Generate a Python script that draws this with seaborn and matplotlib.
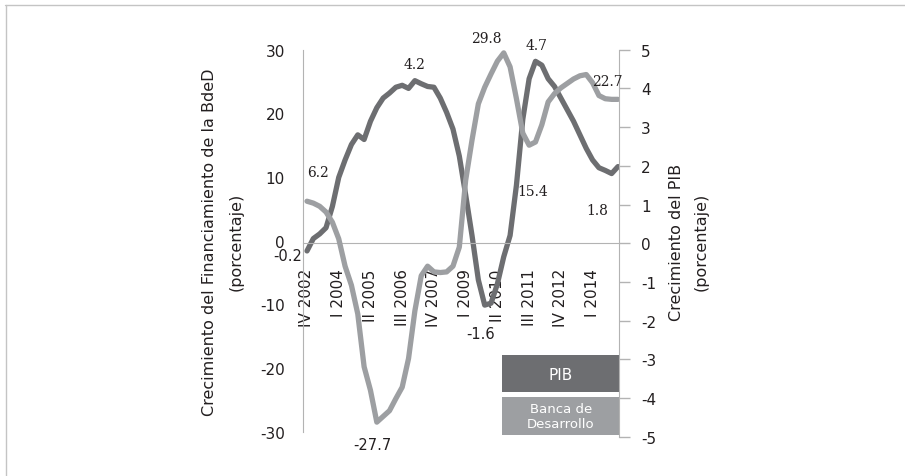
import pandas as pd
import seaborn as sns
import matplotlib.pyplot as plt
from matplotlib.patches import Rectangle
from matplotlib.lines import Line2D

# quarters IV 2002 .. I 2015
roman = ['I', 'II', 'III', 'IV']
quarters = (['IV 2002']
            + [f'{roman[q]} {y}' for y in range(2003, 2015) for q in range(4)]
            + ['I 2015'])

# crecimiento del PIB (eje derecho)
pib = [-0.2, 0.12, 0.24, 0.4, 0.95, 1.7, 2.15, 2.55, 2.8, 2.68,
       3.15, 3.5, 3.75, 3.88, 4.03, 4.08, 4.0, 4.2, 4.12, 4.05,
       4.03, 3.75, 3.38, 2.95, 2.25, 1.25, 0.2, -0.95, -1.6, -1.55,
       -1.05, -0.35, 0.2, 1.5, 3.2, 4.25, 4.7, 4.6, 4.25, 4.05,
       3.75, 3.45, 3.15, 2.8, 2.45, 2.15, 1.95, 1.88, 1.8, 1.98]

# crecimiento del financiamiento de la banca de desarrollo (eje izquierdo)
banca = [6.2, 5.9, 5.4, 4.5, 2.9, 0.3, -4.0, -7.0, -11.5, -19.8,
         -23.5, -28.5, -27.6, -26.7, -24.8, -23.0, -18.5, -11.0, -5.5, -4.0,
         -4.9, -5.0, -4.9, -4.0, -1.0, 9.5, 15.8, 21.5, 24.1, 26.2,
         28.2, 29.5, 27.3, 22.3, 16.9, 15.0, 15.5, 18.2, 21.8, 23.1,
         24.0, 24.7, 25.4, 25.9, 26.1, 24.8, 22.8, 22.3, 22.2, 22.2]

shown_every = 5

df = pd.DataFrame({'t': range(len(quarters)), 'quarter': quarters,
                   'pib': pib, 'banca': banca})

DARK = '#6d6e71'
LIGHT = '#9d9fa2'
AXIS = '#b3b3b3'
TXT = '#231f20'

sns.set_style('white')
plt.rcParams['font.family'] = ['DejaVu Sans']
plt.rcParams['axes.unicode_minus'] = False

W, H = 905, 477
fig = plt.figure(figsize=(W / 100, H / 100), dpi=100)

ax = fig.add_axes([303 / W, 1 - 432.7 / H, 316 / W, 382 / H])
ax2 = fig.add_axes([303 / W, 1 - 437.7 / H, 316 / W, 387 / H], sharex=ax)

sns.lineplot(data=df, x='t', y='pib', ax=ax2, color=DARK, lw=3.8,
             legend=False, solid_joinstyle='round')
sns.lineplot(data=df, x='t', y='banca', ax=ax, color=LIGHT, lw=3.8,
             legend=False, solid_joinstyle='round')

# left axis
ax.set_zorder(2)
ax.patch.set_visible(False)
ax.set_ylim(-30, 30)
ax.set_yticks(range(-30, 31, 10))
ax.set_xlim(-0.63, len(quarters) - 1 + 0.16)
for s in ['top', 'right', 'bottom']:
    ax.spines[s].set_visible(False)
ax.spines['left'].set_color(AXIS)
ax.tick_params(axis='y', direction='out', length=8, width=1, color=AXIS,
               labelsize=11, labelcolor=TXT, pad=5)
ax.tick_params(axis='x', bottom=False, labelbottom=False)
ax.set_xlabel('')
ax.set_ylabel('')

# right axis + category axis
ax2.set_zorder(1)
ax2.patch.set_visible(False)
ax2.set_ylim(-5, 5)
ax2.set_yticks(range(-5, 6))
ax2.yaxis.tick_right()
for s in ['top', 'left']:
    ax2.spines[s].set_visible(False)
ax2.spines['right'].set_color(AXIS)
ax2.spines['bottom'].set_position(('data', 0))
ax2.spines['bottom'].set_color(AXIS)
ax2.tick_params(axis='y', direction='out', length=8, width=1, color=AXIS,
                labelsize=11, labelcolor=TXT, pad=8)
ax2.set_xticks(df['t'])
ax2.set_xticklabels([q if i % shown_every == 0 else '' for i, q in enumerate(quarters)])
ax2.tick_params(axis='x', direction='out', length=5, width=1, color=AXIS,
                labelsize=11, labelcolor=TXT, labelrotation=90, pad=13)
ax2.set_xlabel('')
ax2.set_ylabel('')

# value labels
serif = dict(family='DejaVu Serif', fontsize=10, color=TXT, ha='center', va='center')
sans = dict(family='DejaVu Sans', fontsize=10.5, color=TXT, ha='center', va='center')
notes = [
    (ax, 0, banca, '6.2', (11, 29), serif),
    (ax2, 17, pib, '4.2', (0, 17), serif),
    (ax, 31, banca, '29.8', (-17, 15), serif),
    (ax2, 36, pib, '4.7', (1, 16), serif),
    (ax, 49, banca, '22.7', (-11, 18), serif),
    (ax, 35, banca, '15.4', (4, -46), serif),
    (ax2, 48, pib, '1.8', (-14, -36), serif),
    (ax2, 28, pib, '-1.6', (-4, -28), sans),
    (ax, 11, banca, '-27.7', (-4, -22), sans),
    (ax2, 0, pib, '-0.2', (-19, -5), sans),
]
for a, i, series, txt, off, style in notes:
    a.annotate(txt, xy=(i, series[i]), xytext=off, textcoords='offset pixels', **style)

# axis titles
fig.text(209 / W, 1 - 242 / H, 'Crecimiento del Financiamiento de la BdeD',
         rotation=90, ha='center', va='center', fontsize=11.5, color=TXT)
fig.text(236 / W, 1 - 242 / H, '(porcentaje)',
         rotation=90, ha='center', va='center', fontsize=11.5, color=TXT)
fig.text(676 / W, 1 - 242 / H, 'Crecimiento del PIB',
         rotation=90, ha='center', va='center', fontsize=11.5, color=TXT)
fig.text(701 / W, 1 - 242 / H, '(porcentaje)',
         rotation=90, ha='center', va='center', fontsize=11.5, color=TXT)

# legend boxes
fig.add_artist(Rectangle((501.7 / W, 1 - 393 / H), 118.3 / W, 37 / H,
                         transform=fig.transFigure, color=DARK, lw=0))
fig.text(561 / W, 1 - 375 / H, 'PIB', ha='center', va='center',
         fontsize=11, color='white')
fig.add_artist(Rectangle((501.7 / W, 1 - 436 / H), 118.3 / W, 38 / H,
                         transform=fig.transFigure, color=LIGHT, lw=0))
fig.text(561 / W, 1 - 417 / H, 'Banca de\nDesarrollo', ha='center', va='center',
         fontsize=9.5, color='white', linespacing=1.25)

# frame lines
fig.add_artist(Line2D([5 / W, 1], [1 - 6 / H, 1 - 6 / H], transform=fig.transFigure,
                      color='#c4c4c4', lw=1))
fig.add_artist(Line2D([6 / W, 6 / W], [0, 1 - 6 / H], transform=fig.transFigure,
                      color='#c4c4c4', lw=1))

fig.savefig('out.png', dpi=100)
